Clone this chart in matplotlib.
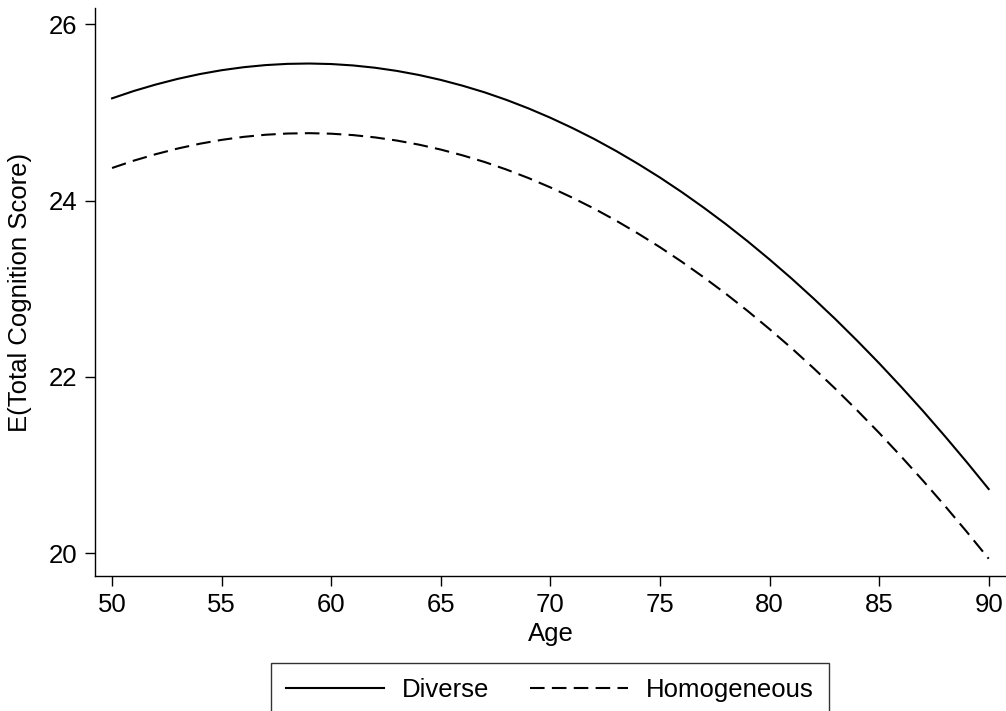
import matplotlib
matplotlib.use("Agg")
import matplotlib.pyplot as plt

plt.rcParams['font.family'] = ['Liberation Sans', 'DejaVu Sans']

# Predicted total cognition score by age
ages = list(range(50, 91))
diverse = [25.160, 25.244, 25.317, 25.381, 25.435, 25.479, 25.513, 25.537,
           25.551, 25.555, 25.549, 25.533, 25.507, 25.471, 25.425, 25.369,
           25.303, 25.228, 25.142, 25.046, 24.940, 24.824, 24.699, 24.563,
           24.417, 24.262, 24.096, 23.920, 23.735, 23.539, 23.333, 23.118,
           22.892, 22.657, 22.411, 22.156, 21.890, 21.615, 21.329, 21.034,
           20.729]
homogeneous = [24.370, 24.454, 24.527, 24.591, 24.645, 24.689, 24.723, 24.747,
               24.761, 24.765, 24.759, 24.743, 24.717, 24.681, 24.635, 24.579,
               24.513, 24.438, 24.352, 24.256, 24.150, 24.034, 23.909, 23.773,
               23.627, 23.472, 23.306, 23.130, 22.945, 22.749, 22.543, 22.328,
               22.102, 21.867, 21.621, 21.366, 21.100, 20.825, 20.539, 20.244,
               19.939]
x_ticks = [50, 55, 60, 65, 70, 75, 80, 85, 90]
y_ticks = [20, 22, 24, 26]

fig = plt.figure(figsize=(10.06, 7.11), dpi=100)
ax = fig.add_axes([0.0944, 0.1899, 0.9056, 0.7989])

ax.plot(ages, diverse, color='black', lw=1.5, label='Diverse')
ax.plot(ages, homogeneous, color='black', lw=1.5, linestyle=(0, (7, 3.5)),
        label='Homogeneous')

ax.set_xlim(49.22, 90.79)
ax.set_ylim(19.743, 26.185)
ax.set_xticks(x_ticks)
ax.set_yticks(y_ticks)

for side in ['top', 'right']:
    ax.spines[side].set_visible(False)
for side in ['left', 'bottom']:
    ax.spines[side].set_linewidth(1.0)

ax.tick_params(axis='both', direction='out', length=7.5, width=1.0,
               labelsize=18.5, pad=5)
ax.set_xlabel('Age', fontsize=18.5, labelpad=3)
ax.set_ylabel('E(Total Cognition Score)', fontsize=18.5, labelpad=12)

leg = fig.legend(loc='upper center', bbox_to_anchor=(550 / 1006, 1 - 663 / 711),
                 ncol=2, fontsize=18.5, frameon=True, fancybox=False,
                 handlelength=3.8, handletextpad=0.7, columnspacing=1.6,
                 borderpad=0.6, borderaxespad=0)
leg.get_frame().set_edgecolor('black')
leg.get_frame().set_linewidth(1.0)

fig.savefig('out.png', dpi=100)
